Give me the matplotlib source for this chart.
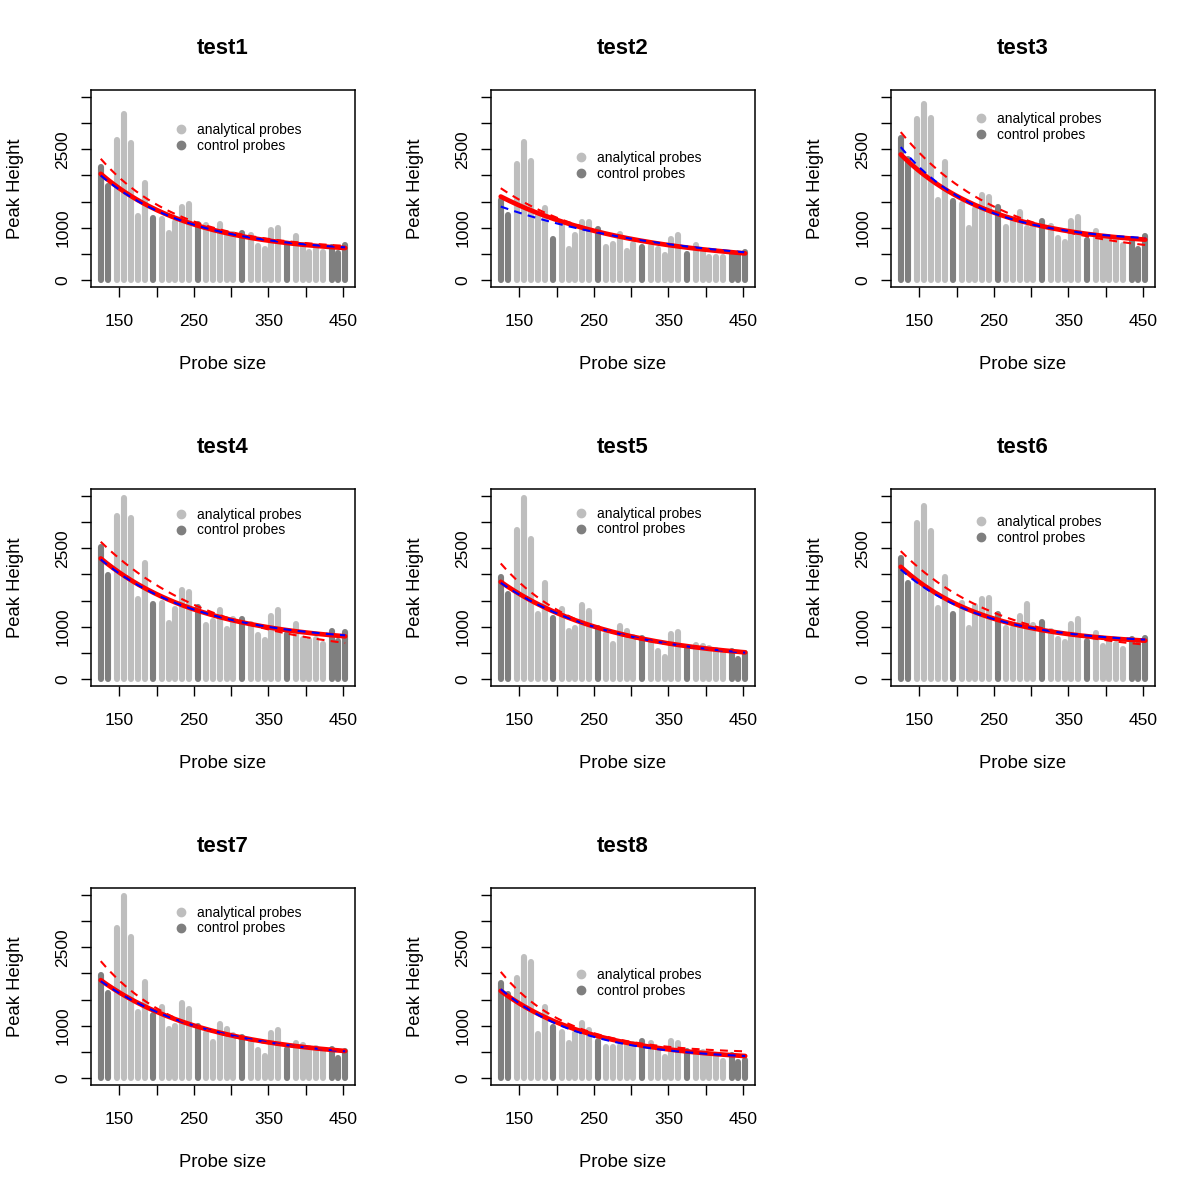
import numpy as np
import matplotlib.pyplot as plt
from matplotlib.lines import Line2D

plt.rcParams['font.family'] = ['Liberation Sans', 'DejaVu Sans']

# probe sizes (bp) and which ones are control probes
probe_size = [125, 135, 147, 156, 165, 175, 184, 195, 207, 216, 225, 234, 243, 255, 266, 275, 285,
              294, 303, 315, 327, 336, 345, 354, 363, 375, 387, 396, 405, 414, 423, 435, 444, 453]
control = [1, 1, 0, 0, 0, 0, 0, 1, 0, 0, 0, 0, 0, 1, 0, 0, 0,
           0, 0, 1, 0, 0, 0, 0, 0, 1, 0, 0, 0, 0, 0, 1, 1, 1]

titles = ['test1', 'test2', 'test3', 'test4', 'test5', 'test6', 'test7', 'test8']

peak_test1 = [2167, 1795, 2679, 3173, 2615, 1218, 1853, 1192, 1173, 897, 1109, 1397, 1455, 1077, 1058, 949, 1064,
              872, 885, 897, 853, 647, 596, 949, 994, 660, 840, 660, 532, 596, 532, 628, 513, 660]
peak_test2 = [1538, 1237, 2212, 2647, 2276, 1269, 1385, 788, 1077, 596, 853, 1109, 1109, 968, 628, 692, 878,
              551, 692, 628, 647, 583, 468, 782, 853, 500, 673, 532, 436, 436, 436, 519, 500, 532]
peak_test3 = [2724, 2308, 3083, 3372, 3109, 1526, 2263, 1506, 1462, 1000, 1365, 1622, 1590, 1397, 1013, 1141, 1301,
              994, 1032, 1135, 1026, 808, 724, 1122, 1199, 756, 930, 788, 801, 756, 660, 788, 596, 833]
peak_test4 = [2532, 1987, 3128, 3462, 3077, 1526, 2212, 1430, 1462, 1077, 1333, 1699, 1667, 1378, 1032, 1109, 1327,
              962, 1141, 1154, 1045, 833, 744, 1205, 1314, 853, 1058, 756, 744, 756, 673, 917, 724, 897]
peak_test5 = [1955, 1635, 2853, 3468, 2679, 1237, 1833, 1173, 1333, 917, 981, 1417, 1295, 981, 853, 660, 1019,
              917, 801, 776, 692, 532, 417, 853, 904, 564, 647, 628, 583, 551, 500, 532, 372, 500]
peak_test6 = [2314, 1833, 2981, 3321, 2840, 1365, 1955, 1237, 1462, 981, 1397, 1526, 1545, 1237, 981, 981, 1205,
              1430, 1032, 1090, 917, 756, 705, 1058, 1141, 724, 878, 622, 712, 673, 577, 756, 660, 788]
peak_test7 = [1974, 1635, 2872, 3494, 2699, 1256, 1846, 1205, 1353, 930, 994, 1430, 1314, 994, 865, 679, 1032,
              936, 821, 788, 705, 532, 423, 865, 917, 551, 673, 628, 577, 564, 513, 551, 372, 513]
peak_test8 = [1814, 1609, 1910, 2308, 2212, 840, 1353, 981, 885, 660, 853, 1045, 917, 712, 596, 596, 609,
              641, 647, 705, 660, 532, 404, 705, 660, 513, 506, 494, 436, 404, 327, 436, 308, 340]
peaks = [peak_test1, peak_test2, peak_test3, peak_test4, peak_test5, peak_test6, peak_test7, peak_test8]

# fitted curves read at the start, middle and end of the size range
curve_x = [125, 289, 453]
fit_all = [[2032, 910, 609], [1596, 814, 506], [2404, 1115, 769], [2308, 1167, 814],
           [1859, 850, 506], [2147, 1006, 731], [1872, 850, 513], [1667, 686, 417]]
fit_alt = [[2321, 950, 650], [1756, 814, 516], [2833, 1167, 667], [2628, 1199, 686],
           [2212, 830, 526], [2449, 1071, 654], [2237, 830, 526], [2032, 718, 506]]
fit_ctrl = [[2000, 910, 622], [1404, 814, 526], [2545, 1103, 801], [2288, 1167, 833],
            [1840, 845, 500], [2096, 1006, 750], [1853, 850, 506], [1699, 654, 417]]

# legend top (data units) in each panel
legend_top = [3005, 2466, 3216, 3274, 3293, 3139, 3293, 2101]


def exp_curve(vals):
    y0, y1, y2 = vals
    h = curve_x[1] - curve_x[0]
    q = (y2 - y1) / (y1 - y0)
    b = -np.log(q) / h
    a = (y0 - y1) / (1 - q)
    xx = np.linspace(curve_x[0], curve_x[2], 200)
    return xx, (y0 - a) + a * np.exp(-b * (xx - curve_x[0]))


light = '#bebebe'
dark = '#7f7f7f'
x = np.array(probe_size)
ctrl = np.array(control, dtype=bool)
colors = [dark if c else light for c in ctrl]
xpad = 0.04 * (x.max() - x.min())

fig = plt.figure(figsize=(12, 11.97), dpi=100)
for i, title in enumerate(titles):
    row, col = divmod(i, 3)
    ax = fig.add_axes([0.0758 + col / 3, 0.7602 - row / 3, 0.22, 0.1646])
    ax.vlines(x, 0, peaks[i], colors=colors, linewidth=4.4, capstyle='round')
    xx, yy = exp_curve(fit_all[i])
    ax.plot(xx, yy, color='red', lw=3.4, solid_capstyle='round')
    xx, yy = exp_curve(fit_ctrl[i])
    ax.plot(xx, yy, color='blue', lw=1.5, dashes=(3.8, 3))
    xx, yy = exp_curve(fit_alt[i])
    ax.plot(xx, yy, color='red', lw=1.5, dashes=(3.8, 3))

    ax.set_xlim(x.min() - xpad, x.max() + xpad)
    ax.set_ylim(-140, 3640)
    ax.set_xticks([150, 200, 250, 300, 350, 400, 450])
    ax.set_xticklabels(['150', '', '250', '', '350', '', '450'])
    ax.set_yticks([0, 500, 1000, 1500, 2000, 2500, 3000, 3500])
    ax.set_yticklabels(['0', '', '1000', '', '', '2500', '', ''], rotation=90, va='center')
    ax.tick_params(length=7, width=1, labelsize=12.5)
    ax.tick_params(axis='x', pad=12.5)
    ax.tick_params(axis='y', pad=8)
    for s in ax.spines.values():
        s.set_linewidth(1.1)

    ax.set_title(title, fontsize=16, fontweight='bold', pad=26)
    ax.set_xlabel('Probe size', fontsize=13.3)
    ax.set_ylabel('Peak Height', fontsize=13.3)
    ax.xaxis.set_label_coords(0.5, -0.35)
    ax.yaxis.set_label_coords(-0.254, 0.5)

    handles = [Line2D([], [], ls='none', marker='o', ms=6, color=light),
               Line2D([], [], ls='none', marker='o', ms=6, color=dark)]
    ax.legend(handles, ['analytical probes', 'control probes'], loc='upper left',
              bbox_to_anchor=(223, legend_top[i]), bbox_transform=ax.transData,
              frameon=False, fontsize=10, borderpad=0, handlelength=1.0,
              handletextpad=0.7, labelspacing=0.1, borderaxespad=0)

fig.savefig('out.png', dpi=100)
